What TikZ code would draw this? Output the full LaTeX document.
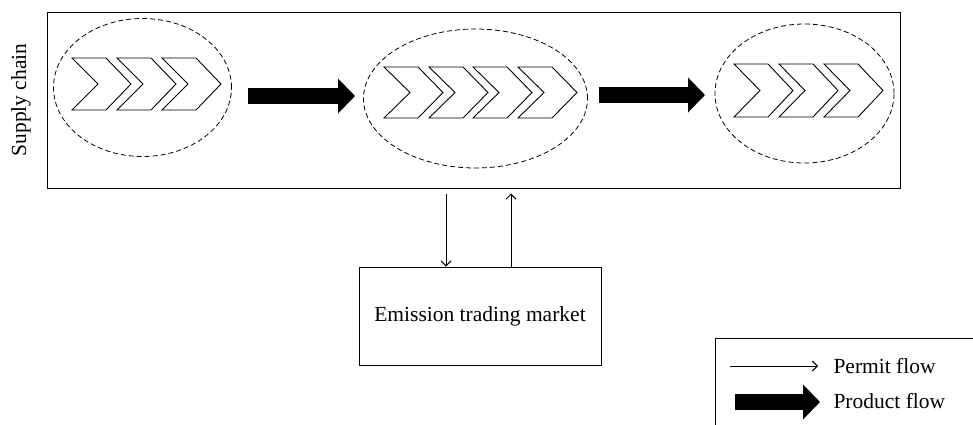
\documentclass[tikz,border=0pt]{standalone}
\usepackage{fontspec}
\setmainfont{Liberation Serif}
\usetikzlibrary{arrows.meta,shapes.geometric}

\begin{document}
\begin{tikzpicture}[x=1pt, y=-1pt, line width=1pt]
	\tikzset{
		box/.style={draw, rectangle, inner sep=0pt},
		stage/.style={draw, ellipse, dashed, dash pattern=on 5pt off 3pt, line width=.8pt, inner sep=0pt},
		permit/.style={-{Straight Barb[length=5pt,width=10pt]}, line width=1pt},
		product/.style={line width=16pt, -{Triangle[length=17pt 0 0,width=34pt 0 0]}},
		label/.style={font=\fontsize{21.5}{26}\selectfont}
	}
	\useasboundingbox (0,0) rectangle (973,424);

	% \drawchev#x#y#halfheight
	\def\drawchev#1#2#3{
		\filldraw[fill=white, line width=.9pt] (#1, #2 - #3) -- (#1 + 34, #2 - #3) -- (#1 + 59, #2)
			-- (#1 + 34, #2 + #3) -- (#1, #2 + #3) -- (#1 + 26, #2) -- cycle;
	}

	% supply chain
	\node[box, minimum width=853pt, minimum height=176pt] (chain) at (473.5, 100) {};
	\node[label, rotate=90] (chaintxt) at (21, 100) {Supply chain};

	% stages
	\node[stage, minimum width=178pt, minimum height=138pt] (left) at (142.5, 87.5) {};
	\node[stage, minimum width=224pt, minimum height=139pt] (middle) at (475.5, 98.5) {};
	\node[stage, minimum width=179pt, minimum height=139pt] (right) at (804.5, 93.5) {};

	\drawchev{72}{84}{26}
	\drawchev{117}{84}{26}
	\drawchev{162}{84}{26}

	\drawchev{384}{92.5}{25.5}
	\drawchev{429}{92.5}{25.5}
	\drawchev{473}{92.5}{25.5}
	\drawchev{518}{92.5}{25.5}

	\drawchev{734}{90.5}{26.5}
	\drawchev{779}{90.5}{26.5}
	\drawchev{824}{90.5}{26.5}

	% product flow
	\coordinate (p1) at (248, 96);
	\coordinate (p2) at (355, 96);
	\coordinate (p3) at (599, 95);
	\coordinate (p4) at (705, 95);
	\draw[product] (p1) -- (p2);
	\draw[product] (p3) -- (p4);

	% market
	\node[box, label, minimum width=242pt, minimum height=98pt] (market) at (480, 316) {Emission trading market};
	\coordinate (down) at (446, 0);
	\coordinate (up) at (511, 0);
	\draw[permit, shorten <=5pt] (chain.south -| down) -- (market.north -| down);
	\draw[permit, shorten >=5pt] (market.north -| up) -- (chain.south -| up);

	% legend
	\draw (975, 338) -| (715, 426);
	\node[label, anchor=west, inner sep=0pt] (permittxt) at (833, 366) {Permit flow};
	\node[label, anchor=west, inner sep=0pt] (producttxt) at (833, 401) {Product flow};
	\coordinate (l1) at (730, 366);
	\coordinate (l2) at (735, 402);
	\draw[permit, shorten >=15pt] (l1) -- (permittxt.west);
	\draw[product, shorten >=13pt] (l2) -- (l2 -| producttxt.west);
\end{tikzpicture}
\end{document}
